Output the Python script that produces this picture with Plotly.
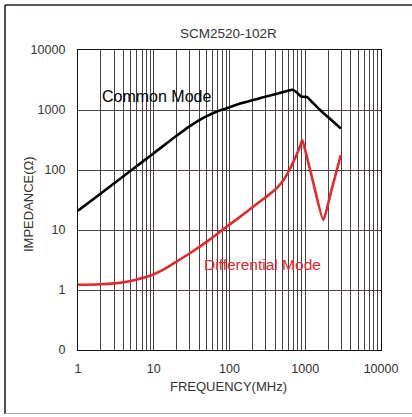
import plotly.graph_objects as go

# ---- data ----
common_freq = [1, 2, 5.1, 10, 19, 30, 47, 65, 90, 138, 200, 313, 450, 590, 680, 760, 880, 1050, 1200, 1570, 2100, 2950]
common_imp = [21, 40.5, 100, 190, 355, 540, 760, 920, 1060, 1280, 1450, 1700, 1900, 2100, 2170, 2000, 1680, 1650, 1400, 1000, 720, 490]

diff_freq = [1, 2, 3, 4.2, 6, 9.5, 14, 19, 30, 52, 87, 150, 250, 343, 420, 510, 630, 776, 860, 910, 960, 1300, 1730, 2200, 2950]
diff_imp = [1.22, 1.25, 1.29, 1.36, 1.5, 1.78, 2.25, 2.85, 4.1, 6.6, 10.8, 18, 29.5, 40, 50, 66, 105, 185, 255, 316, 260, 56, 14.7, 44, 178]

y_tickvals = [0.1, 1, 10, 100, 1000, 10000]
y_ticktext = ["0", "1", "10", "100", "1000", "10000"]
x_tickvals = [1, 10, 100, 1000, 10000]
x_ticktext = ["1", "10", "100", "1000", "10000"]

title_text = "SCM2520-102R"
x_title = "FREQUENCY(MHz)"
y_title = "IMPEDANCE(Ω)"
common_label = "Common Mode"
diff_label = "Differential Mode"

# minor vertical grid positions (2..9 per decade)
x_minor = [m * 10 ** d for d in range(4) for m in range(2, 10)]

FONT = "Arial, Liberation Sans, sans-serif"
GRID = "#4a4242"

fig = go.Figure()
fig.add_trace(go.Scatter(x=common_freq, y=common_imp, mode="lines",
                         line=dict(color="#000000", width=2.6, shape="spline", smoothing=0.7),
                         showlegend=False))
fig.add_trace(go.Scatter(x=diff_freq, y=diff_imp, mode="lines",
                         line=dict(color="#e8262b", width=2.6, shape="spline", smoothing=0.5),
                         showlegend=False))

fig.update_layout(
    width=412, height=417,
    margin=dict(l=78, r=31, t=50, b=67),
    paper_bgcolor="white", plot_bgcolor="white",
    font=dict(family=FONT, color="#333333"),
    showlegend=False,
)

fig.update_xaxes(
    type="log", range=[0, 4],
    tickvals=x_tickvals, ticktext=x_ticktext,
    tickfont=dict(size=12.5, color="#333333"),
    showgrid=True, gridcolor=GRID, gridwidth=1,
    minor=dict(tickvals=x_minor, showgrid=True, gridcolor=GRID, gridwidth=1, ticks=""),
    showline=True, linecolor="#111111", linewidth=1.3, mirror=True,
    ticks="", ticklabelstandoff=7, zeroline=False,
)
fig.update_yaxes(
    type="log", range=[-1, 4],
    tickvals=y_tickvals, ticktext=y_ticktext,
    tickfont=dict(size=12.5, color="#333333"),
    showgrid=True, gridcolor=GRID, gridwidth=1,
    showline=True, linecolor="#111111", linewidth=1.3, mirror=True,
    ticks="", ticklabelstandoff=9, zeroline=False,
)

annotations = [
    dict(text=title_text, xref="paper", yref="paper", x=(228 - 78) / 303, y=(350 - 33) / 300,
         showarrow=False, font=dict(size=13.5, color="#333333", family=FONT), xanchor="center", yanchor="middle"),
    dict(text=x_title, xref="paper", yref="paper", x=(228 - 78) / 303, y=(350 - 386) / 300,
         showarrow=False, font=dict(size=13, color="#333333", family=FONT), xanchor="center", yanchor="middle"),
    dict(text=y_title, xref="paper", yref="paper", x=(28 - 78) / 303, y=(350 - 204) / 300,
         showarrow=False, textangle=-90, font=dict(size=13, color="#333333", family=FONT),
         xanchor="center", yanchor="middle"),
    dict(text=common_label, x=1.04, y=3.217, xref="x", yref="y", showarrow=False,
         font=dict(size=16, color="#000000", family=FONT), xanchor="center", yanchor="middle"),
    dict(text=diff_label, x=2.436, y=0.417, xref="x", yref="y", showarrow=False,
         font=dict(size=15.5, color="#e8262b", family=FONT), xanchor="center", yanchor="middle"),
]
fig.update_layout(annotations=annotations)

# outer frame of the picture
def px(xp):
    return (xp - 78) / 303

def py(yp):
    return (350 - yp) / 300

shapes = [
    dict(type="line", xref="paper", yref="paper", x0=px(5), x1=px(5), y0=py(5), y1=py(414),
         line=dict(color="#2b2020", width=1.6)),
    dict(type="line", xref="paper", yref="paper", x0=px(5), x1=px(412), y0=py(5), y1=py(5),
         line=dict(color="#2b2020", width=1.6)),
    dict(type="line", xref="paper", yref="paper", x0=px(5), x1=px(412), y0=py(413.5), y1=py(413.5),
         line=dict(color="#aaaaaa", width=1.2)),
]
fig.update_layout(shapes=shapes)

fig.write_html(
    "out.html",
    config={"displayModeBar": False},
    post_script="document.body.style.margin='0';document.body.style.overflow='hidden';",
)
